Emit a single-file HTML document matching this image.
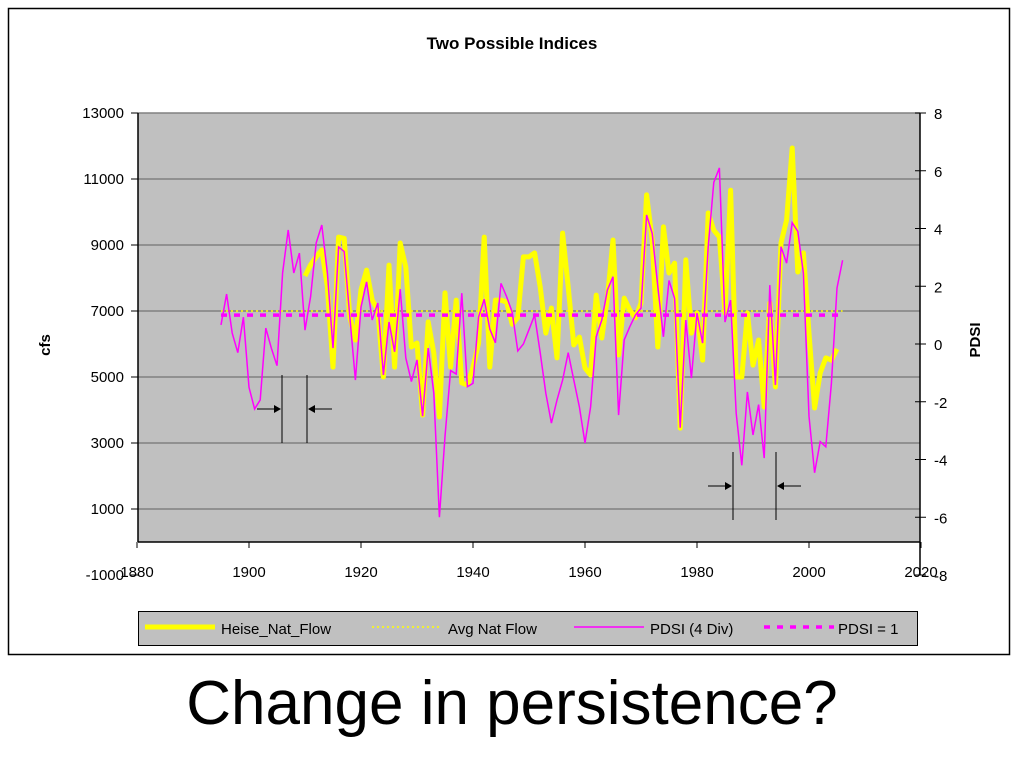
<!DOCTYPE html>
<html><head><meta charset="utf-8"><style>
body{margin:0;background:#fff;width:1024px;height:768px;overflow:hidden;font-family:"Liberation Sans",sans-serif}
svg text{font-family:"Liberation Sans",sans-serif}
</style></head><body>
<svg id="c" width="1024" height="768">
<rect x="8.5" y="8.5" width="1001" height="646" fill="#fff" stroke="#000" stroke-width="1.5"/>
<text x="512" y="49" text-anchor="middle" font-size="17" font-weight="bold">Two Possible Indices</text>
<rect x="138" y="113" width="782" height="429" fill="#c0c0c0"/>
<g id="grid"></g><g id="axes"></g><g id="series"></g><g id="ann"></g>
<text x="0" y="0" transform="translate(50,345) rotate(-90)" text-anchor="middle" font-size="15" font-weight="bold">cfs</text>
<text x="0" y="0" transform="translate(980,340) rotate(-90)" text-anchor="middle" font-size="15" font-weight="bold">PDSI</text>
<g>
<rect x="138.5" y="611.5" width="779" height="34" fill="#c0c0c0" stroke="#000"/>
<line x1="145" y1="627" x2="215" y2="627" stroke="#ffff00" stroke-width="5"/>
<text x="221" y="634" font-size="15">Heise_Nat_Flow</text>
<line x1="372" y1="627" x2="442" y2="627" stroke="#ffff00" stroke-width="1.5" stroke-dasharray="2,3"/>
<text x="448" y="634" font-size="15">Avg Nat Flow</text>
<line x1="574" y1="627" x2="644" y2="627" stroke="#ff00ff" stroke-width="1.5"/>
<text x="650" y="634" font-size="15">PDSI (4 Div)</text>
<line x1="764" y1="627" x2="834" y2="627" stroke="#ff00ff" stroke-width="3.5" stroke-dasharray="6,7"/>
<text x="838" y="634" font-size="15">PDSI = 1</text>
</g>
<text x="512" y="724" text-anchor="middle" font-size="62">Change in persistence?</text>
</svg>
<script>
const pdsiYears0 = 1895;
const pdsiValues = [0.66,1.73,0.38,-0.3,0.93,-1.5,-2.25,-1.94,0.55,-0.15,-0.75,2.46,3.95,2.46,3.15,0.48,1.64,3.5,4.12,2.45,-0.14,3.36,3.2,0.95,-1.25,1.28,2.15,0.83,1.42,-1.07,0.76,-0.27,1.9,-0.48,-1.3,-0.55,-2.5,-0.14,-1.7,-6.0,-3.2,-0.92,-1.04,1.76,-1.48,-1.36,0.94,1.55,0.52,0.04,2.1,1.64,1.1,-0.24,0,0.5,1.0,-0.3,-1.7,-2.74,-1.94,-1.25,-0.3,-1.25,-2.18,-3.43,-2.18,0.25,0.83,1.87,2.33,-2.46,0.14,0.6,1.0,1.24,4.47,3.83,2.0,0.25,2.2,1.58,-2.9,0.83,-1.18,1.07,0.03,3.37,5.6,6.1,0.76,1.52,-2.4,-4.2,-1.66,-3.15,-2.1,-3.95,2.04,-1.42,3.37,2.8,4.2,3.9,2.45,-2.5,-4.46,-3.38,-3.56,-1.36,1.94,2.9];
const flowYears0 = 1910;
const flowValues = [8060,8400,8640,8850,7730,5300,9240,9200,6820,6120,7640,8240,7330,7030,5000,8390,5300,9060,8330,5910,6030,3850,6670,5730,3790,7550,5300,7330,4820,4760,5300,6030,9240,5300,7330,7330,7270,6600,6800,8640,8640,8760,7730,6330,7090,5580,9360,7730,5970,6210,5270,5060,7480,6180,7390,9150,5670,7390,7030,6790,7240,10520,9150,5910,9550,8150,8450,3450,8550,6330,6940,5510,9970,9450,9240,6940,10660,5000,5000,6940,5360,6120,4090,7240,4700,9060,9760,11940,8180,8760,6330,4060,5120,5580,5510,5850];
const avgFlow = 7000;
const pdsiRef = 1;
const refStart = 1895, refEnd = 2006;
const xTicks = [1880,1900,1920,1940,1960,1980,2000,2020];
const cfsTicks = [-1000,1000,3000,5000,7000,9000,11000,13000];
const pdsiTicks = [-8,-6,-4,-2,0,2,4,6,8];

const NS="http://www.w3.org/2000/svg";
const X = yr => 137 + (yr-1880)*5.6;
const YL = v => 113 + (13000-v)*66/2000;
const YR = v => 344 - v*28.875;
function mk(parent,tag,attrs){const e=document.createElementNS(NS,tag);for(const k in attrs)e.setAttribute(k,attrs[k]);document.getElementById(parent).appendChild(e);return e;}

cfsTicks.forEach(v=>{
  const y=YL(v);
  if(v>0){const g=mk('grid','line',{x1:138,x2:920,y1:y,y2:y,stroke:'#808080','stroke-width':1.5});
  
  }
  const t=mk('axes','line',{x1:131,x2:138,y1:y,y2:y,stroke:'#000'});
  
  
  const l=mk('axes','text',{x:124,y:y+5,'text-anchor':'end','font-size':15});
  l.textContent=v;
  
  
});
pdsiTicks.forEach(v=>{
  const y=YR(v);
  const t=mk('axes','line',{x1:915,x2:926,y1:y,y2:y,stroke:'#000'});
  
  
  const l=mk('axes','text',{x:934,y:y+6,'font-size':15});
  l.textContent=v;
  
  
});
xTicks.forEach(v=>{
  const x=X(v);
  const t=mk('axes','line',{x1:x,x2:x,y1:542,y2:548,stroke:'#000'});
  
  
  const l=mk('axes','text',{x:x,y:577,'text-anchor':'middle','font-size':15});
  l.textContent=v;
  
  
});
let a=mk('axes','line',{x1:138,x2:138,y1:113,y2:542,stroke:'#000','stroke-width':1.5});


a=mk('axes','line',{x1:920,x2:920,y1:113,y2:575,stroke:'#000','stroke-width':1.5});


a=mk('axes','line',{x1:138,x2:920,y1:542,y2:542,stroke:'#000','stroke-width':1.5});



let s=mk('series','polyline',{points:flowValues.map((v,i)=>X(flowYears0+i)+','+YL(v)).join(' '),fill:'none',stroke:'#ffff00','stroke-width':5,'stroke-linejoin':'round'});


s=mk('series','line',{x1:X(refStart),x2:X(refEnd),y1:YL(avgFlow),y2:YL(avgFlow),stroke:'#ffff00','stroke-width':1.5,'stroke-dasharray':'2,3'});


s=mk('series','line',{x1:X(refStart),x2:X(refEnd),y1:YR(pdsiRef),y2:YR(pdsiRef),stroke:'#ff00ff','stroke-width':3.5,'stroke-dasharray':'6,7'});


s=mk('series','polyline',{points:pdsiValues.map((v,i)=>X(pdsiYears0+i)+','+YR(v)).join(' '),fill:'none',stroke:'#ff00ff','stroke-width':1.5});



function bracket(x1,x2,y1,y2){
  const ym=(y1+y2)/2;
  [[x1],[x2]].forEach(([x])=>{const l=mk('ann','line',{x1:x,x2:x,y1:y1,y2:y2,stroke:'#000'});
  
  });
  let l=mk('ann','line',{x1:x1-25,x2:x1-6,y1:ym,y2:ym,stroke:'#000'});
  
  
  let p=mk('ann','polygon',{points:`${x1-1},${ym} ${x1-8},${ym-4} ${x1-8},${ym+4}`,fill:'#000'});
  
  
  l=mk('ann','line',{x1:x2+6,x2:x2+25,y1:ym,y2:ym,stroke:'#000'});
  
  
  p=mk('ann','polygon',{points:`${x2+1},${ym} ${x2+8},${ym-4} ${x2+8},${ym+4}`,fill:'#000'});
  
  
}
bracket(282,307,375,443);
bracket(733,776,452,520);
</script>
</body></html>
